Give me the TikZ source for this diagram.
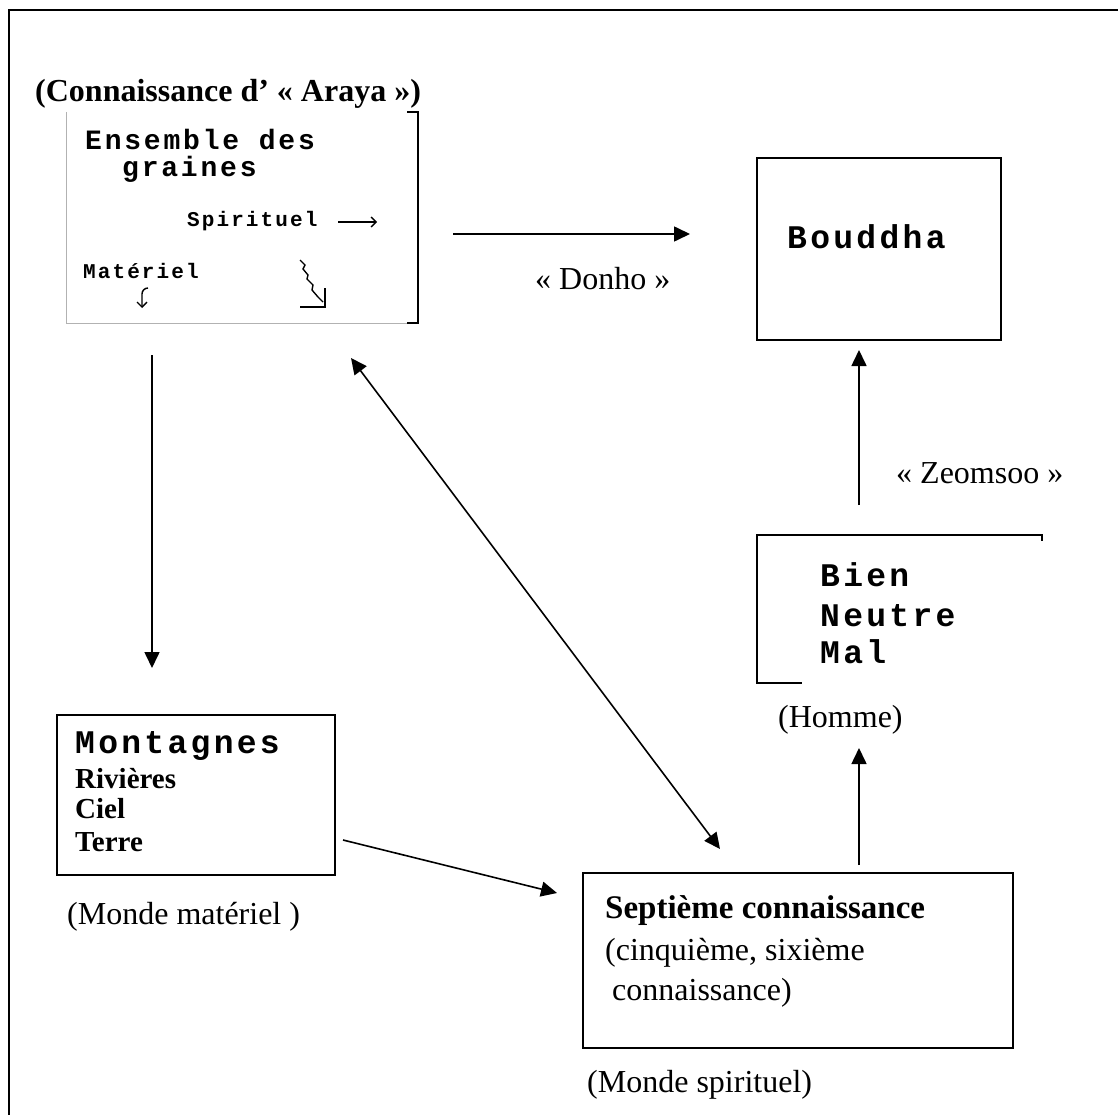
\documentclass[tikz,border=0pt]{standalone}
\usepackage{fontspec}
\setmainfont{Liberation Serif}
\newfontfamily\pixfont[LetterSpace=10]{Liberation Mono}
\usetikzlibrary{arrows.meta, positioning, calc}

\begin{document}
\begin{tikzpicture}[
  x=1pt, y=-1pt,
  every node/.style={font=\fontsize{32}{38}\selectfont, inner sep=0pt},
  box/.style={rectangle, draw, line width=1.5pt, inner sep=0pt},
  lbl/.style={anchor=base west},
  bold/.style={lbl, font=\bfseries\fontsize{33}{38}\selectfont},
  pix/.style={lbl, font=\pixfont\bfseries\fontsize{33}{36}\selectfont},
  pixmid/.style={lbl, font=\pixfont\bfseries\fontsize{28}{30}\selectfont},
  pixsmall/.style={lbl, font=\pixfont\bfseries\fontsize{21}{24}\selectfont},
  serifb/.style={lbl, font=\bfseries\fontsize{29}{32}\selectfont},
  arr/.style={-{Triangle[length=16pt, width=15pt]}, line width=1.6pt},
  darr/.style={{Triangle[length=16pt, width=15pt]}-{Triangle[length=16pt, width=15pt]}, line width=1.6pt},
  tiny/.style={line width=1.4pt},
]
\useasboundingbox (0,0) rectangle (1118,1115);

% Outer frame (cut on the right and at the bottom)
\draw[line width=2pt] (9,1115) -- (9,10) -- (1118,10);

% Boxes
\node[minimum width=351pt, minimum height=211pt] (graines) at (242.5,217.5) {};
\node[box, minimum width=244pt, minimum height=182pt] (bouddha) at (879,249) {};
\node[minimum width=285pt, minimum height=148pt] (homme) at (899.5,609) {};
\node[box, minimum width=278pt, minimum height=160pt] (monde) at (196,795) {};
\node[box, line width=2.6pt, minimum width=430pt, minimum height=175pt] (septieme) at (798,960.5) {};

% Open frames
\draw[gray!60, line width=1.2pt] (graines.north west) -- (graines.south west) -- ([xshift=-11pt]graines.south east);
\draw[line width=1.5pt] ([xshift=-11pt]graines.north east) -- (graines.north east) -- (graines.south east) -- ++(-11,0);
\draw[line width=1.5pt] (homme.south west) ++(45,0) -- (homme.south west) -- (homme.north west) -- (homme.north east) -- ++(0,6);

% Title
\node[bold, font=\bfseries\fontsize{32}{38}\selectfont] (araya) at (35,102) {(Connaissance d’~«~Araya~»)};

% Ensemble des graines
\node[pixmid] (ens) at (85,150) {Ensemble des};
\node[pixmid] (gra) at (122,177) {graines};
\node[pixsmall] (spir) at (187,227) {Spirituel};
\node[pixsmall] (mat) at (83,278) {Matériel};
\draw[tiny, -{Straight Barb[length=5pt]}] (338,222) -- (377,222);
\draw[tiny, -{Straight Barb[length=5pt]}] (148,288) to[out=180, in=90] (142,294) -- (142,308);
\draw[tiny] (300,260) -- (305,265) -- (303,269) -- (308,275) -- (307,279) -- (313,285) -- (312,290) -- (318,297) -- (323,302);
\draw[tiny] (300,307) -- (325,307) -- (325,288);

% Bouddha
\node[pix] (bud) at (787,249) {Bouddha};

% Bien / Neutre / Mal
\node[pix] (bien) at (820,586) {Bien};
\node[pix] (neutre) at (820,626) {Neutre};
\node[pix] (mal) at (820,663) {Mal};
\node[lbl] (hom) at (778,727) {(Homme)};

% Monde materiel
\node[pix] (mont) at (75,753) {Montagnes};
\node[serifb] (riv) at (75,788) {Rivières};
\node[serifb] (ciel) at (75,818) {Ciel};
\node[serifb] (terre) at (75,851) {Terre};
\node[lbl] (mmat) at (67,924) {(Monde matériel )};

% Septieme connaissance
\node[bold] (sept) at (605,918) {Septième connaissance};
\node[lbl] (cinq) at (605,960) {(cinquième, sixième};
\node[lbl] (conn) at (612,1000) {connaissance)};
\node[lbl] (mspi) at (587,1092) {(Monde spirituel)};

% Connector ends
\coordinate (donho-a) at (453,234);
\coordinate (donho-b) at (690,234);
\coordinate (mat-a) at (152,355);
\coordinate (mat-b) at (152,668);
\coordinate (dbl-a) at (351,358);
\coordinate (dbl-b) at (720,849);
\coordinate (ms-a) at (343,840);
\coordinate (ms-b) at (557,893);
\coordinate (sh-a) at (859,865);
\coordinate (sh-b) at (859,748);
\coordinate (zeo-a) at (859,505);
\coordinate (zeo-b) at (859,350);

% Arrows
\draw[arr] (donho-a) -- (donho-b);
\draw[arr] (mat-a) -- (mat-b);
\draw[darr] (dbl-a) -- (dbl-b);
\draw[arr] (ms-a) -- (ms-b);
\draw[arr] (sh-a) -- (sh-b);
\draw[arr] (zeo-a) -- (zeo-b);

% Labels
\node[lbl] (donho) at (535,289) {«~Donho~»};
\node[lbl] (zeomsoo) at (896,483) {«~Zeomsoo~»};

\end{tikzpicture}
\end{document}
